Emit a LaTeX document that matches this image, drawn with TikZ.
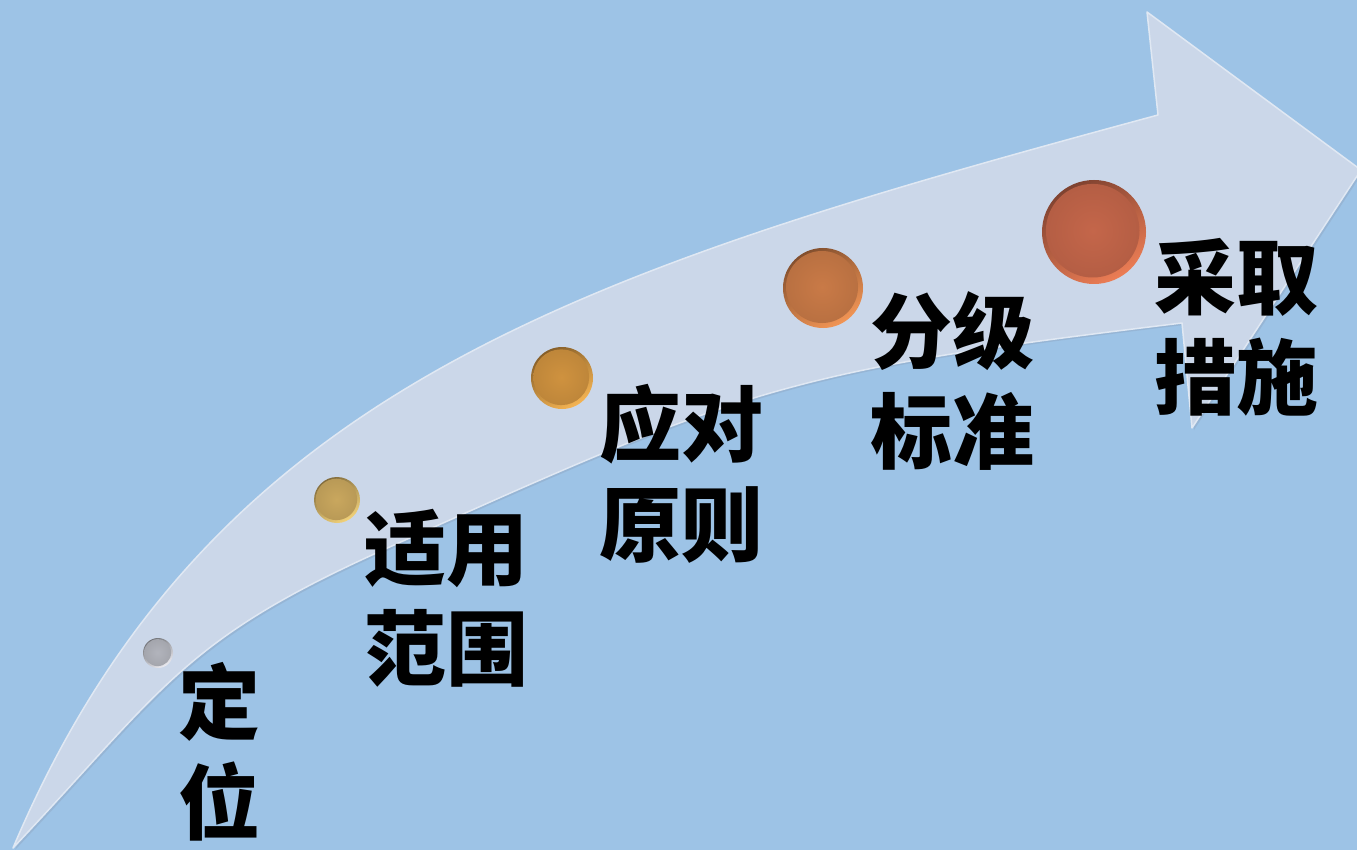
\documentclass[tikz,border=0pt]{standalone}
\usepackage{fontspec}
\newfontfamily\cjk{Noto Sans CJK SC}
\definecolor{bg}{HTML}{9DC3E6}
\definecolor{shaft}{HTML}{CBD7E9}
\definecolor{shaftedge}{HTML}{E0E8F3}
\definecolor{shaftshadow}{HTML}{8FA6C2}
\definecolor{baseA}{HTML}{B2B4BC}\definecolor{rimA}{HTML}{ECECF2}
\definecolor{baseB}{HTML}{C9A75E}\definecolor{rimB}{HTML}{F2D27A}
\definecolor{baseC}{HTML}{CF923F}\definecolor{rimC}{HTML}{F5B453}
\definecolor{baseD}{HTML}{C97A47}\definecolor{rimD}{HTML}{F29555}
\definecolor{baseE}{HTML}{C4664A}\definecolor{rimE}{HTML}{EC7D55}
\newcommand\bead[5]{%
  \shade[top color=#4!65!black, bottom color=#5, shading angle=30] (#1,#2) circle (#3);
  \shade[inner color=#4, outer color=#4!92!black] (#1-0.025*#3,#2-0.025*#3) circle (0.9*#3);
}
\def\arrowpath{(13,848) .. controls (208,387) and (582,271) .. (1158,115) -- (1147,12) -- (1361,170) -- (1192,428) -- (1182,323)
  .. controls (786,371) and (747,386) .. (383,550) .. controls (183,640) and (165,687) .. cycle}
\tikzset{
  lab/.style={font=\cjk\bfseries\fontsize{82}{100}\selectfont, align=center, inner sep=0pt, text=black},
}
\begin{document}
\begin{tikzpicture}[x=1pt,y=-1pt]
\useasboundingbox (0,0) rectangle (1357,850);
\clip (0,0) rectangle (1357,850);
\fill[bg] (0,0) rectangle (1357,850);
% arrow shape
\begin{scope}[shift={(2,2)}]
  \fill[shaftshadow, opacity=0.45] \arrowpath;
\end{scope}
\fill[shaft, draw=shaftedge, line width=1.5pt, line join=round] \arrowpath;
% beads
\bead{158}{653}{15}{baseA}{rimA}
\bead{337}{500}{23}{baseB}{rimB}
\bead{562}{378}{31}{baseC}{rimC}
\bead{823}{288}{40}{baseD}{rimD}
\bead{1094}{232}{52}{baseE}{rimE}
% labels
\node[lab] (t1) at (219,752) {定\\位};
\node[lab] (t2) at (446,598) {适用\\范围};
\node[lab] (t3) at (681,474) {应对\\原则};
\node[lab] (t4) at (952,381) {分级\\标准};
\node[lab] (t5) at (1236,327) {采取\\措施};
\end{tikzpicture}
\end{document}
